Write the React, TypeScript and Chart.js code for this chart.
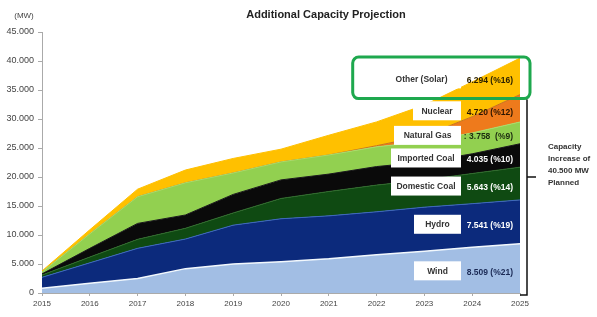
import React, { useEffect, useRef } from 'react';
import { Chart, registerables } from 'chart.js';
Chart.register(...registerables);

const years = ['2015', '2016', '2017', '2018', '2019', '2020', '2021', '2022', '2023', '2024', '2025'];
const wind = [800, 1700, 2500, 4200, 5000, 5400, 5900, 6600, 7200, 7900, 8509];
const hydro = [1900, 3500, 5200, 5100, 6700, 7400, 7400, 7400, 7600, 7500, 7541];
const domesticCoal = [400, 1000, 1550, 1850, 2100, 3500, 4200, 4600, 4700, 5200, 5643];
const importedCoal = [200, 1500, 2750, 2300, 3200, 3200, 3000, 3200, 3100, 3400, 4035];
const naturalGas = [300, 2500, 4600, 5550, 3700, 3100, 3300, 3400, 3500, 3600, 3758];
const nuclear = [0, 0, 0, 0, 0, 0, 0, 200, 1000, 2800, 4720];
const solar = [200, 700, 1300, 2200, 2500, 2200, 3400, 4100, 5300, 6000, 6294];

const seriesNames = ['Wind', 'Hydro', 'Domestic Coal', 'Imported Coal', 'Natural Gas', 'Nuclear', 'Other (Solar)'];
const seriesData = [wind, hydro, domesticCoal, importedCoal, naturalGas, nuclear, solar];
const valueLabels = ['8.509 (%21)', '7.541 (%19)', '5.643 (%14)', '4.035 (%10)', ': 3.758  (%9)', '4.720 (%12)', '6.294 (%16)'];
const fillColors = ['#a2bee4', '#0c2a7c', '#0f4a12', '#0a0a0a', '#92d050', '#ee7a1c', '#ffc000'];
const lineColors = ['#f2f8fd', '#3d68bd', '#2f6b2c', '#1a1a1a', '#a9dc6c', '#c8741c', '#ffc000'];
const valueColors = ['#1b2a55', '#ffffff', '#ffffff', '#ffffff', '#1c2a10', '#2b1500', '#2b2000'];
const labelBoxWidths = [47, 47, 70, 70, 67, 48, 103];
const yTicks = [0, 5000, 10000, 15000, 20000, 25000, 30000, 35000, 40000, 45000];
const totalPlanned = '40.500 MW';

const annotPlugin = {
  id: 'annot',
  afterDraw(chart: any) {
    const ctx = chart.ctx;
    const xs = chart.scales.x;
    const ys = chart.scales.y;
    const area = chart.chartArea;
    const last = years.length - 1;
    const xEnd = xs.getPixelForValue(last);
    ctx.save();
    // title
    ctx.fillStyle = '#222';
    ctx.font = 'bold 11px "Liberation Sans", Arial, sans-serif';
    ctx.textAlign = 'center';
    ctx.textBaseline = 'middle';
    ctx.fillText('Additional Capacity Projection', 326, 15);
    ctx.font = '8px "Liberation Sans", Arial, sans-serif';
    ctx.fillStyle = '#444';
    ctx.fillText('(MW)', 24, 16);

    // labels
    let cum = 0;
    const mids: number[] = [];
    const tops: number[] = [];
    seriesData.forEach((arr) => {
      const v = arr[last];
      mids.push(ys.getPixelForValue(cum + v / 2) + 3);
      cum += v;
      tops.push(ys.getPixelForValue(cum));
    });
    const boxRight = xEnd - 59;
    seriesNames.forEach((name, i) => {
      const cy = mids[i];
      const w = labelBoxWidths[i];
      ctx.fillStyle = '#ffffff';
      ctx.fillRect(boxRight - w, cy - 10, w, 19);
      ctx.fillStyle = '#333';
      ctx.font = 'bold 8.5px "Liberation Sans", Arial, sans-serif';
      ctx.textAlign = 'center';
      ctx.fillText(name, boxRight - w / 2 + (i === 6 ? 12 : 0), cy);
      ctx.fillStyle = valueColors[i];
      ctx.font = 'bold 8.5px "Liberation Sans", Arial, sans-serif';
      ctx.textAlign = 'right';
      ctx.fillText(valueLabels[i], xEnd - 7, cy + 1);
    });

    // green highlight box
    const gTop = ys.getPixelForValue(cum) - 1;
    const gBot = tops[5] + 4;
    const gLeft = xs.getPixelForValue(6.5);
    const gRight = area.right + 10;
    ctx.strokeStyle = '#1ea84e';
    ctx.lineWidth = 3;
    const r = 6;
    ctx.beginPath();
    ctx.moveTo(gLeft + r, gTop);
    ctx.arcTo(gRight, gTop, gRight, gBot, r);
    ctx.arcTo(gRight, gBot, gLeft, gBot, r);
    ctx.arcTo(gLeft, gBot, gLeft, gTop, r);
    ctx.arcTo(gLeft, gTop, gRight, gTop, r);
    ctx.closePath();
    ctx.stroke();

    // brace
    const bx = area.right + 7;
    const bTop = gBot + 1;
    const bBot = area.bottom + 2;
    const bMid = ys.getPixelForValue(20000);
    ctx.strokeStyle = '#111';
    ctx.lineWidth = 1.5;
    ctx.beginPath();
    ctx.moveTo(bx, bTop);
    ctx.lineTo(bx, bBot);
    ctx.lineTo(bx - 7, bBot);
    ctx.moveTo(bx, bMid);
    ctx.lineTo(bx + 9, bMid);
    ctx.stroke();

    ctx.fillStyle = '#333';
    ctx.font = 'bold 8px "Liberation Sans", Arial, sans-serif';
    ctx.textAlign = 'left';
    const tx = bx + 21;
    ctx.fillText('Capacity', tx, bMid - 30);
    ctx.fillText('Increase of', tx, bMid - 18);
    ctx.fillText(totalPlanned, tx, bMid - 6);
    ctx.fillText('Planned', tx, bMid + 6);
    ctx.restore();
  },
};

export default function App() {
  const ref = useRef<HTMLCanvasElement>(null);
  useEffect(() => {
    if (!ref.current) return;
    const chart = new Chart(ref.current, {
      type: 'line',
      data: {
        labels: years,
        datasets: seriesData.map((d, i) => ({
          label: seriesNames[i],
          data: d,
          backgroundColor: fillColors[i],
          borderColor: lineColors[i],
          borderWidth: i === 0 ? 1.5 : 1,
          fill: i === 0 ? 'origin' : '-1',
          pointRadius: 0,
          tension: 0,
        })),
      },
      options: {
        responsive: false,
        animation: false,
        layout: { padding: { top: 32, right: 77, left: 0, bottom: 0 } },
        plugins: { legend: { display: false }, tooltip: { enabled: false }, title: { display: false } },
        scales: {
          x: {
            offset: false,
            grid: { display: true, drawOnChartArea: false, drawTicks: true, tickLength: 3, color: '#aaa' },
            border: { display: true, color: '#aaa' },
            ticks: {
              color: '#444',
              font: { size: 8, family: '"Liberation Sans", Arial, sans-serif' },
              padding: 3,
              maxRotation: 0,
              autoSkip: false,
            },
            afterFit: (s: any) => { s.height = 24; },
          },
          y: {
            stacked: true,
            min: 0,
            max: 45000,
            afterBuildTicks: (s: any) => { s.ticks = yTicks.map((v) => ({ value: v })); },
            grid: { display: true, drawOnChartArea: false, drawTicks: true, tickLength: 4, color: '#aaa' },
            border: { display: true, color: '#aaa' },
            ticks: {
              color: '#444',
              font: { size: 9, family: '"Liberation Sans", Arial, sans-serif' },
              padding: 4,
              callback: (v: any) => (v === 0 ? '0' : Number(v).toLocaleString('de-DE', { minimumFractionDigits: 0 }).replace(/,/g, '.')),
            },
            afterFit: (s: any) => { s.width = 42; },
          },
        },
      },
      plugins: [annotPlugin],
    });
    return () => chart.destroy();
  }, []);
  return (
    <div style={{ position: 'fixed', left: 0, top: 0, width: 597, height: 317, background: '#fff' }}>
      <canvas ref={ref} width={597} height={317} style={{ width: 597, height: 317 }} />
    </div>
  );
}
